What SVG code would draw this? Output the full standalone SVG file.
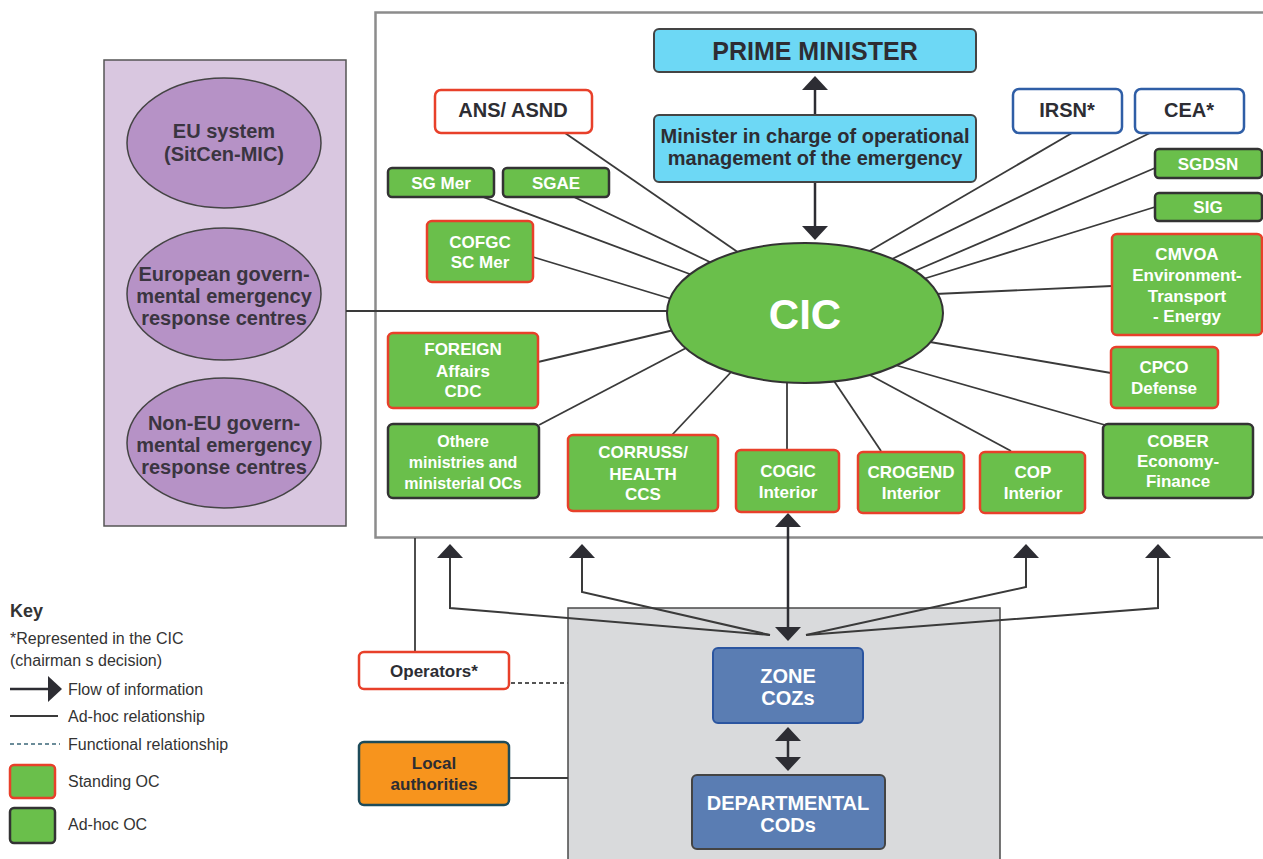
<svg xmlns="http://www.w3.org/2000/svg" width="1263" height="859" viewBox="0 0 1263 859">
  <style>
    text { font-family: "Liberation Sans", Arial, sans-serif; text-anchor: middle; }
    .frame { fill: #ffffff; stroke: #8c8c8c; stroke-width: 2.5; }
    .panel { fill: #d9c7e0; stroke: #555555; stroke-width: 1.5; }
    .region { fill: #d9dadc; stroke: #4a4a4a; stroke-width: 1.5; }
    .eu { fill: #b692c6; stroke: #444444; stroke-width: 1.5; }
    .eu-t { font-size: 20px; font-weight: bold; fill: #3a3540; }
    .std { fill: #6abf4b; stroke: #e8402a; stroke-width: 2.5; }
    .adh { fill: #6abf4b; stroke: #333333; stroke-width: 2.5; }
    .ext-red { fill: #ffffff; stroke: #e8402a; stroke-width: 2.5; }
    .ext-blue { fill: #ffffff; stroke: #2f5ea6; stroke-width: 2.5; }
    .gov { fill: #6dd8f5; stroke: #444444; stroke-width: 2; }
    .local { fill: #5a7db3; stroke: #2b55a0; stroke-width: 2; }
    .dept { fill: #5a7db3; stroke: #444444; stroke-width: 2; }
    .orange { fill: #f7941d; stroke: #1d4b5a; stroke-width: 2.5; }
    .wt { font-size: 17px; font-weight: bold; fill: #ffffff; }
    .dt { font-size: 20px; font-weight: bold; fill: #2d2d33; }
    .link { stroke: #3a3a3a; stroke-width: 1.8; fill: none; }
    .dash { stroke: #555555; stroke-width: 1.8; stroke-dasharray: 4 3; fill: none; }
    .flow { stroke: #2d2d33; stroke-width: 2.5; fill: none; }
    .fan { stroke: #3a3a3a; stroke-width: 2; fill: none; }
    .key-t { font-size: 16px; fill: #333333; text-anchor: start; }
  </style>
  <defs>
    <marker id="head" viewBox="0 0 14 26" refX="0" refY="13" markerWidth="14" markerHeight="26" markerUnits="userSpaceOnUse" orient="auto-start-reverse">
      <path d="M0,0 L14,13 L0,26 Z" fill="#2d2d33"/>
    </marker>
  </defs>

  <!-- background areas -->
  <rect class="frame" x="375.5" y="12.5" width="900" height="525"/>
  <rect class="panel" x="104" y="60" width="242" height="466"/>
  <rect class="region" x="568" y="608" width="432" height="270"/>

  <!-- connectors -->
  <g id="connectors">
    <line class="link" x1="565" y1="133" x2="742" y2="255"/>
    <line class="link" x1="483" y1="197" x2="695" y2="276"/>
    <line class="link" x1="574" y1="197" x2="714" y2="264"/>
    <line class="link" x1="533" y1="257" x2="675" y2="300"/>
    <line class="link" x1="1072" y1="133" x2="866" y2="253"/>
    <line class="link" x1="1150" y1="133" x2="888" y2="261"/>
    <line class="link" x1="1155" y1="168" x2="910" y2="273"/>
    <line class="link" x1="1155" y1="207" x2="920" y2="280"/>
    <line class="link" x1="1112" y1="286" x2="935" y2="294"/>
    <line class="link" x1="1111" y1="373" x2="930" y2="342"/>
    <line class="link" x1="1105" y1="425" x2="895" y2="365"/>
    <line class="link" x1="1011" y1="451" x2="868" y2="374"/>
    <line class="link" x1="881" y1="451" x2="832" y2="378"/>
    <line class="link" x1="787" y1="450" x2="787" y2="378"/>
    <line class="link" x1="672" y1="435" x2="733" y2="370"/>
    <line class="link" x1="539" y1="425" x2="688" y2="347"/>
    <line class="link" x1="538" y1="362" x2="674" y2="330"/>
    <line class="link" x1="346" y1="311" x2="672" y2="311"/>
    <line class="link" x1="415" y1="538" x2="415" y2="652"/>
    <line class="link" x1="510" y1="778" x2="568" y2="778"/>
    <line class="dash" x1="511" y1="683" x2="568" y2="683"/>

    <line class="flow" x1="815" y1="115" x2="815" y2="90" marker-end="url(#head)"/>
    <line class="flow" x1="815" y1="182" x2="815" y2="226" marker-end="url(#head)"/>
    <line class="flow" x1="788" y1="527" x2="788" y2="627" marker-start="url(#head)" marker-end="url(#head)"/>
    <line class="flow" x1="788" y1="741" x2="788" y2="757" marker-start="url(#head)" marker-end="url(#head)"/>

    <polyline class="fan" points="770,635 450,608 450,558" marker-end="url(#head)"/>
    <polyline class="fan" points="770,635 582,592 582,558" marker-end="url(#head)"/>
    <polyline class="fan" points="806,635 1026,587 1026,558" marker-end="url(#head)"/>
    <polyline class="fan" points="806,635 1158,608 1158,558" marker-end="url(#head)"/>
  </g>

  <!-- European level -->
  <g id="eu-system">
    <ellipse class="eu" cx="224" cy="143" rx="97" ry="65"/>
    <text class="eu-t" x="224" y="138">EU system</text>
    <text class="eu-t" x="224" y="161">(SitCen-MIC)</text>
  </g>
  <g id="eu-centres">
    <ellipse class="eu" cx="224" cy="294" rx="97" ry="66"/>
    <text class="eu-t" x="224" y="281">European govern-</text>
    <text class="eu-t" x="224" y="303">mental emergency</text>
    <text class="eu-t" x="224" y="325">response centres</text>
  </g>
  <g id="non-eu-centres">
    <ellipse class="eu" cx="224" cy="443" rx="97" ry="65"/>
    <text class="eu-t" x="224" y="430">Non-EU govern-</text>
    <text class="eu-t" x="224" y="452">mental emergency</text>
    <text class="eu-t" x="224" y="474">response centres</text>
  </g>

  <!-- government -->
  <g id="prime-minister">
    <rect class="gov" x="654" y="29" width="322" height="43" rx="5"/>
    <text class="dt" x="815" y="60" style="font-size:25px">PRIME MINISTER</text>
  </g>
  <g id="minister">
    <rect class="gov" x="654" y="115" width="322" height="67" rx="5"/>
    <text class="dt" x="815" y="143">Minister in charge of operational</text>
    <text class="dt" x="815" y="165">management of the emergency</text>
  </g>

  <!-- CIC -->
  <g id="cic">
    <ellipse cx="805" cy="313" rx="138" ry="70" fill="#6abf4b" stroke="#333333" stroke-width="2"/>
    <text x="805" y="329" style="font-size:42px;font-weight:bold;fill:#ffffff">CIC</text>
  </g>

  <!-- represented bodies -->
  <g id="ans-asnd">
    <rect class="ext-red" x="435" y="90" width="157" height="43" rx="6"/>
    <text class="dt" x="513" y="117">ANS/ ASND</text>
  </g>
  <g id="irsn">
    <rect class="ext-blue" x="1013" y="89" width="109" height="44" rx="6"/>
    <text class="dt" x="1067" y="117">IRSN*</text>
  </g>
  <g id="cea">
    <rect class="ext-blue" x="1135" y="89" width="109" height="44" rx="6"/>
    <text class="dt" x="1189" y="117">CEA*</text>
  </g>

  <!-- operational centres -->
  <g id="sg-mer">
    <rect class="adh" x="388" y="168" width="106" height="29" rx="4"/>
    <text class="wt" x="441" y="189">SG Mer</text>
  </g>
  <g id="sgae">
    <rect class="adh" x="503" y="168" width="106" height="29" rx="4"/>
    <text class="wt" x="556" y="189">SGAE</text>
  </g>
  <g id="cofgc">
    <rect class="std" x="427" y="221" width="106" height="61" rx="5"/>
    <text class="wt" x="480" y="248">COFGC</text>
    <text class="wt" x="480" y="268">SC Mer</text>
  </g>
  <g id="sgdsn">
    <rect class="adh" x="1155" y="149" width="107" height="29" rx="4"/>
    <text class="wt" x="1208" y="170">SGDSN</text>
  </g>
  <g id="sig">
    <rect class="adh" x="1155" y="193" width="107" height="28" rx="4"/>
    <text class="wt" x="1208" y="213">SIG</text>
  </g>
  <g id="cmvoa">
    <rect class="std" x="1112" y="234" width="150" height="101" rx="5"/>
    <text class="wt" x="1187" y="260">CMVOA</text>
    <text class="wt" x="1187" y="281">Environment-</text>
    <text class="wt" x="1187" y="302">Transport</text>
    <text class="wt" x="1187" y="322">- Energy</text>
  </g>
  <g id="cpco">
    <rect class="std" x="1111" y="347" width="107" height="61" rx="5"/>
    <text class="wt" x="1164" y="373">CPCO</text>
    <text class="wt" x="1164" y="394">Defense</text>
  </g>
  <g id="cober">
    <rect class="adh" x="1103" y="424" width="150" height="74" rx="5"/>
    <text class="wt" x="1178" y="447">COBER</text>
    <text class="wt" x="1178" y="467">Economy-</text>
    <text class="wt" x="1178" y="487">Finance</text>
  </g>
  <g id="cop">
    <rect class="std" x="980" y="452" width="105" height="61" rx="5"/>
    <text class="wt" x="1033" y="478">COP</text>
    <text class="wt" x="1033" y="499">Interior</text>
  </g>
  <g id="crogend">
    <rect class="std" x="858" y="452" width="106" height="61" rx="5"/>
    <text class="wt" x="911" y="478">CROGEND</text>
    <text class="wt" x="911" y="499">Interior</text>
  </g>
  <g id="cogic">
    <rect class="std" x="736" y="450" width="103" height="62" rx="5"/>
    <text class="wt" x="788" y="477">COGIC</text>
    <text class="wt" x="788" y="498">Interior</text>
  </g>
  <g id="corruss">
    <rect class="std" x="568" y="435" width="150" height="76" rx="5"/>
    <text class="wt" x="643" y="458">CORRUSS/</text>
    <text class="wt" x="643" y="480">HEALTH</text>
    <text class="wt" x="643" y="500">CCS</text>
  </g>
  <g id="other-ministries">
    <rect class="adh" x="388" y="424" width="151" height="74" rx="5"/>
    <text class="wt" x="463" y="447" style="font-size:16px">Othere</text>
    <text class="wt" x="463" y="468" style="font-size:16px">ministries and</text>
    <text class="wt" x="463" y="489" style="font-size:16px">ministerial OCs</text>
  </g>
  <g id="foreign-affairs">
    <rect class="std" x="388" y="333" width="150" height="75" rx="5"/>
    <text class="wt" x="463" y="355">FOREIGN</text>
    <text class="wt" x="463" y="377">Affairs</text>
    <text class="wt" x="463" y="397">CDC</text>
  </g>

  <!-- local level -->
  <g id="operators">
    <rect class="ext-red" x="359" y="652" width="150" height="37" rx="5"/>
    <text class="dt" x="434" y="677" style="font-size:17px">Operators*</text>
  </g>
  <g id="local-authorities">
    <rect class="orange" x="359" y="742" width="150" height="63" rx="5"/>
    <text class="dt" x="434" y="769" style="font-size:17px">Local</text>
    <text class="dt" x="434" y="790" style="font-size:17px">authorities</text>
  </g>
  <g id="zone-cozs">
    <rect class="local" x="713" y="648" width="150" height="75" rx="5"/>
    <text class="wt" x="788" y="683" style="font-size:20px">ZONE</text>
    <text class="wt" x="788" y="705" style="font-size:20px">COZs</text>
  </g>
  <g id="departmental-cods">
    <rect class="dept" x="692" y="775" width="193" height="74" rx="5"/>
    <text class="wt" x="788" y="810" style="font-size:20px">DEPARTMENTAL</text>
    <text class="wt" x="788" y="832" style="font-size:20px">CODs</text>
  </g>

  <!-- legend -->
  <g id="legend">
    <text class="key-t" x="10" y="617" style="font-size:18px;font-weight:bold">Key</text>
    <text class="key-t" x="10" y="644">*Represented in the CIC</text>
    <text class="key-t" x="10" y="666">(chairman s decision)</text>
    <line class="flow" x1="10" y1="689" x2="48" y2="689" marker-end="url(#head)"/>
    <text class="key-t" x="68" y="695">Flow of information</text>
    <line class="link" x1="10" y1="716" x2="58" y2="716"/>
    <text class="key-t" x="68" y="722">Ad-hoc relationship</text>
    <line x1="10" y1="744" x2="60" y2="744" stroke="#6b8c99" stroke-width="1.8" stroke-dasharray="4 3"/>
    <text class="key-t" x="68" y="750">Functional relationship</text>
    <rect class="std" x="10" y="765" width="45" height="33" rx="4"/>
    <text class="key-t" x="68" y="787">Standing OC</text>
    <rect class="adh" x="10" y="808" width="45" height="35" rx="4"/>
    <text class="key-t" x="68" y="830">Ad-hoc OC</text>
  </g>
</svg>
